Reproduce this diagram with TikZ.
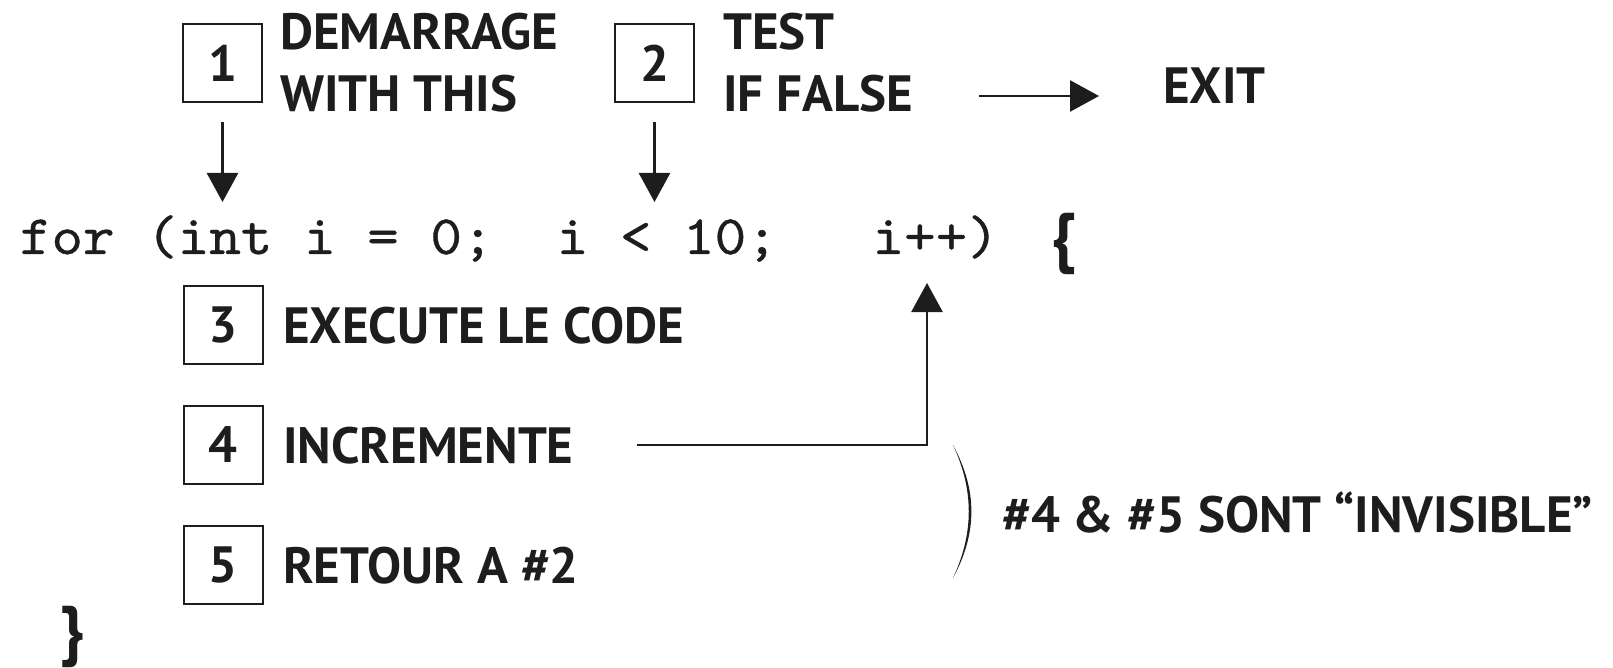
\documentclass[tikz,border=0pt]{standalone}
\usepackage{fontspec}
\setmainfont{PT Sans}
\newfontfamily\codefont{lmmono10-regular.otf}[FakeStretch=1.08,FakeBold=0.6]
\usetikzlibrary{arrows.meta}
\definecolor{ink}{HTML}{1D1D1B}
\begin{document}
\begin{tikzpicture}[x=1pt,y=-1pt,
  every node/.style={inner sep=0pt, text=ink},
  lab/.style={font=\fontsize{51}{62}\selectfont\bfseries, anchor=base west, align=left},
  numbox/.style={draw=ink, line width=2pt, minimum width=79pt, minimum height=78pt,
    font=\fontsize{51}{62}\selectfont\bfseries},
  arr/.style={draw=ink, line width=2.6pt, -{Triangle[length=29pt,width=31pt]}},
  code/.style={font=\fontsize{55.7}{60}\selectfont\codefont, anchor=base west},
  curly/.style={font=\fontsize{66}{70}\selectfont\bfseries}]
\useasboundingbox (0,0) rectangle (1613,668);

% numbered steps
\node[numbox] (b1) at (222.5,63) {1};
\node[numbox] (b2) at (654.5,63) {2};
\node[numbox] (b3) at (223,325) {3};
\node[numbox] (b4) at (223,445) {4};
\node[numbox] (b5) at (223,565) {5};

% step captions (two-line ones are placed by their last baseline)
\node[lab] (start) at (280,112) {DEMARRAGE\\WITH THIS};
\node[lab] (test) at (723,112) {TEST\\IF FALSE};
\node[lab] (exit) at (1163,104) {EXIT};
\node[lab] (exec) at (283,343) {EXECUTE LE CODE};
\node[lab] (inc) at (283,463) {INCREMENTE};
\node[lab] (ret) at (283,583) {RETOUR A \#2};
\node[lab] (note) at (1002,532) {\#4 \& \#5 SONT “INVISIBLE”};

% the loop header and its closing brace
\node[code] (loop) at (19.7,254) {for (int i = 0;\ \ i < 10;\ \ \ i++)};
\node[curly] (open) at (1064,244) {\{};
\node[curly] (close) at (73,637) {\}};

% points on the loop header
\coordinate (init) at (222.5,202);
\coordinate (cond) at (654.5,202);
\coordinate (step) at (927,283);
\coordinate (falsego) at (979,96);

% connectors
\draw[arr, shorten <=19pt] (b1) -- (init);
\draw[arr, shorten <=19pt] (b2) -- (cond);
\draw[arr, shorten >=64pt] (falsego) -- (falsego -| exit.west);
\draw[arr, shorten <=63pt] (inc.east) -| (step);

% bracket grouping steps 4 and 5
\fill[ink] (953,445) .. controls (977.5,490) and (977.5,533) .. (953,578)
  .. controls (974,533) and (974,490) .. (953,445) -- cycle;
\end{tikzpicture}
\end{document}
